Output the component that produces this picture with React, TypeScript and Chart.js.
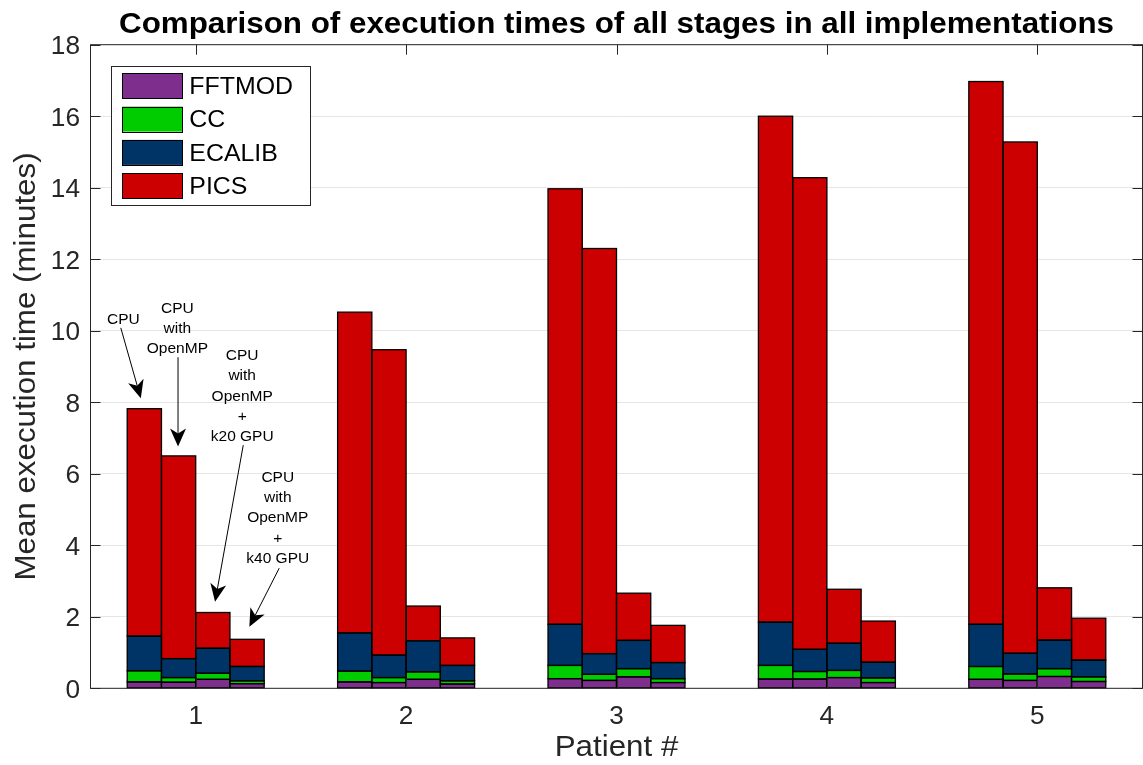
import React, { useEffect, useRef } from 'react';
import { Chart, registerables } from 'chart.js';

Chart.register(...registerables);

// ---------- data ----------
const patients = ['1', '2', '3', '4', '5'];
const stages = ['FFTMOD', 'CC', 'ECALIB', 'PICS'];
const stageColors = ['#7E2F8E', '#00CC00', '#003366', '#CC0000'];
const implementations = ['CPU', 'CPU with OpenMP', 'CPU with OpenMP + k20 GPU', 'CPU with OpenMP + k40 GPU'];

// minutes per stage: one row per implementation, one value per patient
const fftmod = [
  [0.18, 0.18, 0.27, 0.26, 0.25],
  [0.17, 0.16, 0.22, 0.26, 0.22],
  [0.25, 0.25, 0.32, 0.30, 0.33],
  [0.13, 0.12, 0.16, 0.16, 0.19],
];
const cc = [
  [0.31, 0.30, 0.37, 0.38, 0.36],
  [0.13, 0.14, 0.17, 0.21, 0.18],
  [0.17, 0.21, 0.23, 0.20, 0.22],
  [0.08, 0.09, 0.11, 0.13, 0.13],
];
const ecalib = [
  [0.97, 1.07, 1.15, 1.21, 1.18],
  [0.53, 0.63, 0.58, 0.62, 0.58],
  [0.70, 0.87, 0.79, 0.76, 0.80],
  [0.40, 0.43, 0.45, 0.44, 0.47],
];
const pics = [
  [6.36, 8.97, 12.18, 14.15, 15.18],
  [5.67, 8.54, 11.33, 13.19, 14.30],
  [1.00, 0.97, 1.32, 1.51, 1.46],
  [0.76, 0.77, 1.04, 1.15, 1.17],
];
const stageValues = [fftmod, cc, ecalib, pics];

const yMin = 0;
const yMax = 18;
const yStep = 2;

const titleText = 'Comparison of execution times of all stages in all implementations';
const xTitle = 'Patient #';
const yTitle = 'Mean execution time (minutes)';

// annotation labels, anchored in data units (category index, minutes)
const annotations = [
  { lines: ['CPU'], at: [-0.344, 10.18], from: [-0.356, 10.08], to: [-0.261, 8.11] },
  { lines: ['CPU', 'with', 'OpenMP'], at: [-0.087, 10.51], from: [-0.084, 9.26], to: [-0.084, 6.76] },
  { lines: ['CPU', 'with', 'OpenMP', '+', 'k20 GPU'], at: [0.221, 9.18], from: [0.226, 6.80], to: [0.092, 2.42] },
  { lines: ['CPU', 'with', 'OpenMP', '+', 'k40 GPU'], at: [0.390, 5.78], from: [0.397, 3.36], to: [0.255, 1.72] },
];

// ---------- style ----------
const FONT = "'Liberation Sans', Arial, Helvetica, sans-serif";
const AXIS = '#262626';
const GRID = '#e6e6e6';

function drawText(ctx: CanvasRenderingContext2D, s: string, x: number, y: number, font: string, align: CanvasTextAlign, sx = 1, color = '#000') {
  ctx.save();
  ctx.font = font;
  ctx.textAlign = align;
  ctx.textBaseline = 'alphabetic';
  ctx.fillStyle = color;
  ctx.translate(x, y);
  ctx.scale(sx, 1);
  ctx.fillText(s, 0, 0);
  ctx.restore();
}

function drawArrow(ctx: CanvasRenderingContext2D, x1: number, y1: number, x2: number, y2: number) {
  const dx = x2 - x1;
  const dy = y2 - y1;
  const len = Math.hypot(dx, dy);
  const ux = dx / len;
  const uy = dy / len;
  const px = -uy;
  const py = ux;
  const L = 18;
  const W = 8;
  const N = 5;
  ctx.save();
  ctx.strokeStyle = '#000';
  ctx.fillStyle = '#000';
  ctx.lineWidth = 1;
  ctx.beginPath();
  ctx.moveTo(x1, y1);
  ctx.lineTo(x2 - ux * (L - N), y2 - uy * (L - N));
  ctx.stroke();
  ctx.beginPath();
  ctx.moveTo(x2, y2);
  ctx.lineTo(x2 - ux * L + px * W, y2 - uy * L + py * W);
  ctx.lineTo(x2 - ux * (L - N), y2 - uy * (L - N));
  ctx.lineTo(x2 - ux * L - px * W, y2 - uy * L - py * W);
  ctx.closePath();
  ctx.fill();
  ctx.restore();
}

// outlines of every bar segment, stroked centred on the edges
const outlinePlugin = {
  id: 'outline',
  afterDatasetsDraw(chart: any) {
    const ctx: CanvasRenderingContext2D = chart.ctx;
    ctx.save();
    ctx.strokeStyle = '#000';
    ctx.lineWidth = 1.3;
    chart.data.datasets.forEach((_: any, di: number) => {
      const meta = chart.getDatasetMeta(di);
      meta.data.forEach((el: any) => {
        const p = el.getProps(['x', 'y', 'base', 'width'], true);
        const l = p.x - p.width / 2;
        const top = Math.min(p.y, p.base);
        const h = Math.abs(p.base - p.y);
        ctx.strokeRect(l, top, p.width, h);
      });
    });
    ctx.restore();
  },
};

const decorPlugin = {
  id: 'decor',
  afterDraw(chart: any) {
    const ctx: CanvasRenderingContext2D = chart.ctx;
    const area = chart.chartArea;
    const xs = chart.scales.x;
    const ys = chart.scales.y;
    const tickLen = 10;

    // box
    ctx.save();
    ctx.strokeStyle = AXIS;
    ctx.lineWidth = 1;
    ctx.strokeRect(area.left, area.top, area.right - area.left, area.bottom - area.top);

    // y ticks
    ys.ticks.forEach((t: any) => {
      const y = Math.round(ys.getPixelForValue(t.value)) + 0.5;
      ctx.beginPath();
      ctx.moveTo(area.left, y);
      ctx.lineTo(area.left + tickLen, y);
      ctx.moveTo(area.right, y);
      ctx.lineTo(area.right - tickLen, y);
      ctx.stroke();
    });
    // x ticks
    xs.ticks.forEach((t: any) => {
      const x = Math.round(xs.getPixelForValue(t.value)) + 0.5;
      ctx.beginPath();
      ctx.moveTo(x, area.bottom);
      ctx.lineTo(x, area.bottom - tickLen);
      ctx.moveTo(x, area.top);
      ctx.lineTo(x, area.top + tickLen);
      ctx.stroke();
    });
    ctx.restore();

    // tick labels
    const tickFont = `25px ${FONT}`;
    ys.ticks.forEach((t: any) => {
      const y = ys.getPixelForValue(t.value);
      drawText(ctx, String(t.value), area.left - 10.5, y + 9.3, tickFont, 'right', 1.05, AXIS);
    });
    xs.ticks.forEach((t: any) => {
      const x = xs.getPixelForValue(t.value);
      drawText(ctx, xs.getLabelForValue(t.value), x, area.bottom + 36, tickFont, 'center', 1.05, AXIS);
    });

    // axis titles
    const labelFont = `29px ${FONT}`;
    drawText(ctx, xTitle, (area.left + area.right) / 2, area.bottom + 68, labelFont, 'center', 1.08, AXIS);
    ctx.save();
    ctx.translate(35, (area.top + area.bottom) / 2);
    ctx.rotate(-Math.PI / 2);
    drawText(ctx, yTitle, 0, 0, labelFont, 'center', 1.08, AXIS);
    ctx.restore();

    // title
    const tFont = `bold 29px ${FONT}`;
    ctx.save();
    ctx.font = tFont;
    const w = ctx.measureText(titleText).width;
    ctx.restore();
    drawText(ctx, titleText, (area.left + area.right) / 2, 33, tFont, 'center', 995 / w);

    // legend
    const lx = area.left + 20.2;
    const ly = area.top + 21;
    const lw = 199.3;
    const lh = 139.3;
    ctx.save();
    ctx.fillStyle = '#fff';
    ctx.fillRect(lx, ly, lw, lh);
    ctx.strokeStyle = AXIS;
    ctx.lineWidth = 1;
    ctx.strokeRect(Math.round(lx) + 0.5, Math.round(ly) + 0.5, Math.round(lw), Math.round(lh));
    stages.forEach((s, i) => {
      const sy = ly + 7.6 + i * 33.3;
      ctx.fillStyle = stageColors[i];
      ctx.fillRect(lx + 11.6, sy, 60.4, 25);
      ctx.strokeStyle = '#000';
      ctx.strokeRect(Math.round(lx + 11.6) + 0.5, Math.round(sy) + 0.5, 60, 25);
      drawText(ctx, s, lx + 78.6, sy + 12.5 + 8.3, `23.5px ${FONT}`, 'left', 1.06);
    });
    ctx.restore();

    // annotations
    annotations.forEach((a) => {
      const tx = xs.getPixelForValue(a.at[0]);
      const ty = ys.getPixelForValue(a.at[1]);
      a.lines.forEach((ln, k) => {
        drawText(ctx, ln, tx, ty + k * 20.3, `15.5px ${FONT}`, 'center');
      });
      drawArrow(
        ctx,
        xs.getPixelForValue(a.from[0]), ys.getPixelForValue(a.from[1]),
        xs.getPixelForValue(a.to[0]), ys.getPixelForValue(a.to[1])
      );
    });
  },
};

export default function App() {
  const ref = useRef<HTMLCanvasElement | null>(null);

  useEffect(() => {
    if (!ref.current) return;
    const datasets: any[] = [];
    implementations.forEach((impl, i) => {
      stages.forEach((stage, s) => {
        datasets.push({
          label: stage,
          data: stageValues[s][i],
          backgroundColor: stageColors[s],
          borderWidth: 0,
          stack: impl,
          categoryPercentage: 0.651,
          barPercentage: 1,
        });
      });
    });

    const chart = new Chart(ref.current, {
      type: 'bar',
      data: { labels: patients, datasets },
      options: {
        animation: false,
        responsive: false,
        maintainAspectRatio: false,
        events: [],
        layout: { padding: { top: 44.7, right: 0.5, left: 0, bottom: 0 } },
        plugins: {
          legend: { display: false },
          title: { display: false },
          tooltip: { enabled: false },
        },
        scales: {
          x: {
            stacked: true,
            grid: { display: false, drawTicks: false },
            border: { display: false },
            ticks: { display: false },
            afterFit: (s: any) => { s.height = 76.7; },
          },
          y: {
            stacked: true,
            min: yMin,
            max: yMax,
            ticks: { display: false, stepSize: yStep },
            grid: { color: GRID, drawTicks: false, lineWidth: 1 },
            border: { display: false },
            afterFit: (s: any) => { s.width = 90.5; },
          },
        },
      },
      plugins: [outlinePlugin, decorPlugin],
    });
    return () => chart.destroy();
  }, []);

  return (
    <div style={{ position: 'absolute', left: 0, top: 0, width: 1143, height: 765, background: '#fff' }}>
      <canvas ref={ref} width={1143} height={765} style={{ width: 1143, height: 765 }} />
    </div>
  );
}
